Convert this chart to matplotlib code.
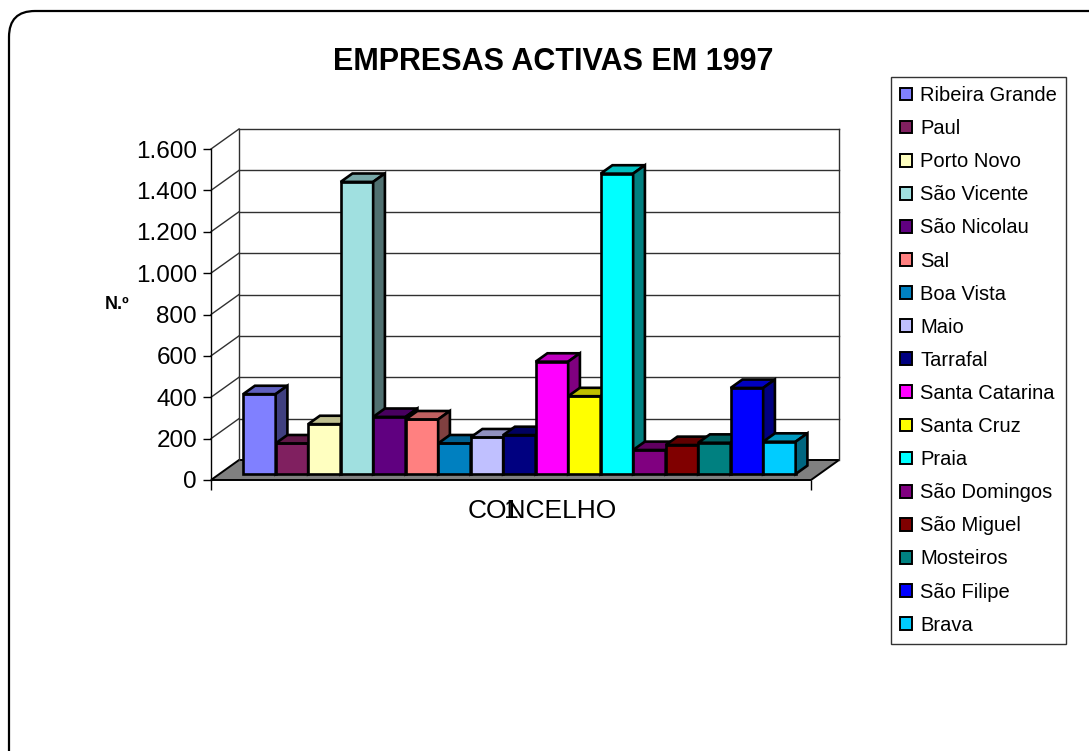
import numpy as np
import matplotlib.pyplot as plt
from matplotlib.patches import Polygon, Patch, FancyBboxPatch
from matplotlib.colors import to_rgb

plt.rcParams['font.family'] = ['Liberation Sans', 'DejaVu Sans']

# data
concelhos = ['Ribeira Grande', 'Paul', 'Porto Novo', 'São Vicente', 'São Nicolau',
             'Sal', 'Boa Vista', 'Maio', 'Tarrafal', 'Santa Catarina', 'Santa Cruz',
             'Praia', 'São Domingos', 'São Miguel', 'Mosteiros', 'São Filipe', 'Brava']
empresas = [386, 148, 241, 1412, 276, 264, 148, 177, 188, 543, 376, 1452,
            116, 140, 151, 416, 156]
cores = ['#8080FF', '#802060', '#FFFFC0', '#A0E0E0', '#600080', '#FF8080', '#0080C0',
         '#C0C0FF', '#000080', '#FF00FF', '#FFFF00', '#00FFFF', '#800080', '#800000',
         '#008080', '#0000FF', '#00CCFF']
yticks = [0, 200, 400, 600, 800, 1000, 1200, 1400, 1600]


def shade(c, f):
    r, g, b = to_rgb(c)
    return (r * f, g * f, b * f)


W, H = 1089, 751
fig = plt.figure(figsize=(W / 100, H / 100), dpi=100)

# rounded frame (only top/left visible, like the original page)
bg = fig.add_axes([0, 0, 1, 1])
bg.set_xlim(0, W)
bg.set_ylim(H, 0)
bg.axis('off')
bg.add_patch(FancyBboxPatch((9, 11), 1110, 780, boxstyle='round,pad=0,rounding_size=26',
                            fc='white', ec='black', lw=1.6))

# front plane of the 3d box: x 211..811 px, y 480..149 px
ax = fig.add_axes([211 / W, 271 / H, 600 / W, 331 / H])
ax.patch.set_visible(False)
NX = 600 / 32.5          # floor length in bar widths
ymax = 1600
ax.set_xlim(0, NX)
ax.set_ylim(0, ymax)
DX = 28 / 32.5           # depth offset (x, in bar widths)
DY = 20 / (331 / ymax)   # depth offset (y, in value units)

for s in ['top', 'right', 'bottom']:
    ax.spines[s].set_visible(False)
ax.spines['left'].set_linewidth(1)

# walls and floor
ax.add_patch(Polygon([(0, 0), (NX, 0), (NX + DX, DY), (DX, DY)], closed=True,
                     fc='#808080', ec='black', lw=1.4, clip_on=False, zorder=1))
gc = '#303030'
for v in yticks[1:]:
    ax.plot([0, DX], [v, v + DY], color=gc, lw=1, clip_on=False, zorder=1.5)
    ax.plot([DX, NX + DX], [v + DY, v + DY], color=gc, lw=1, clip_on=False, zorder=1.5)
ax.plot([DX, DX], [DY, ymax + DY], color=gc, lw=1, clip_on=False, zorder=1.5)
ax.plot([NX + DX, NX + DX], [DY, ymax + DY], color=gc, lw=1, clip_on=False, zorder=1.5)

# 3d bars
d0, d1 = 0.3, 0.72
gap = (NX - len(empresas)) / 2
bx = np.arange(len(empresas)) + gap + d0 * DX
by = d0 * DY
ddx, ddy = (d1 - d0) * DX, (d1 - d0) * DY
for i, (v, c) in enumerate(zip(empresas, cores)):
    z = 3 + i * 0.01
    x0 = bx[i]
    ax.bar(x0, v, width=1, bottom=by, align='edge', color=c, edgecolor='black',
           lw=1.9, clip_on=False, zorder=z)
    top = [(x0, by + v), (x0 + 1, by + v), (x0 + 1 + ddx, by + v + ddy), (x0 + ddx, by + v + ddy)]
    side = [(x0 + 1, by), (x0 + 1 + ddx, by + ddy), (x0 + 1 + ddx, by + v + ddy), (x0 + 1, by + v)]
    ax.add_patch(Polygon(top, closed=True, fc=shade(c, 0.75), ec='black', lw=1.9,
                         joinstyle='miter', clip_on=False, zorder=z))
    ax.add_patch(Polygon(side, closed=True, fc=shade(c, 0.5), ec='black', lw=1.9,
                         joinstyle='miter', clip_on=False, zorder=z))

# axes ticks and labels
ax.set_yticks(yticks)
ax.set_yticklabels([f'{v:,.0f}'.replace(',', '.') for v in yticks], fontsize=17.5)
ax.tick_params(axis='y', direction='out', length=6, width=1, pad=4)
ax.set_xticks([NX / 2])
ax.set_xticklabels(['1'], fontsize=19)
ax.set_xticks([0, NX], minor=True)
ax.tick_params(axis='x', which='major', length=0, pad=14)
ax.tick_params(axis='x', which='minor', length=7, width=1)
ax.set_xlabel('CONCELHO', fontsize=19, va='center')
ax.xaxis.set_label_coords((542 - 211) / 600, -(511 - 480) / 331)

fig.text(117 / W, 1 - 305 / H, 'N.º', fontsize=13, fontweight='bold', ha='center', va='center')
fig.text(553 / W, 1 - 62 / H, 'EMPRESAS ACTIVAS EM 1997', fontsize=22,
         fontweight='bold', ha='center', va='center')

handles = [Patch(fc=c, ec='black', lw=1.4) for c in cores]
leg = fig.legend(handles, concelhos, loc='upper left', bbox_to_anchor=(891 / W, 1 - 77 / H),
                 fontsize=14.5, frameon=True, fancybox=False, borderaxespad=0,
                 handlelength=0.6, handleheight=0.6, handletextpad=0.4,
                 labelspacing=0.7, borderpad=0.45)
leg.get_frame().set_edgecolor('black')
leg.get_frame().set_linewidth(1)

fig.savefig('out.png', dpi=100)
